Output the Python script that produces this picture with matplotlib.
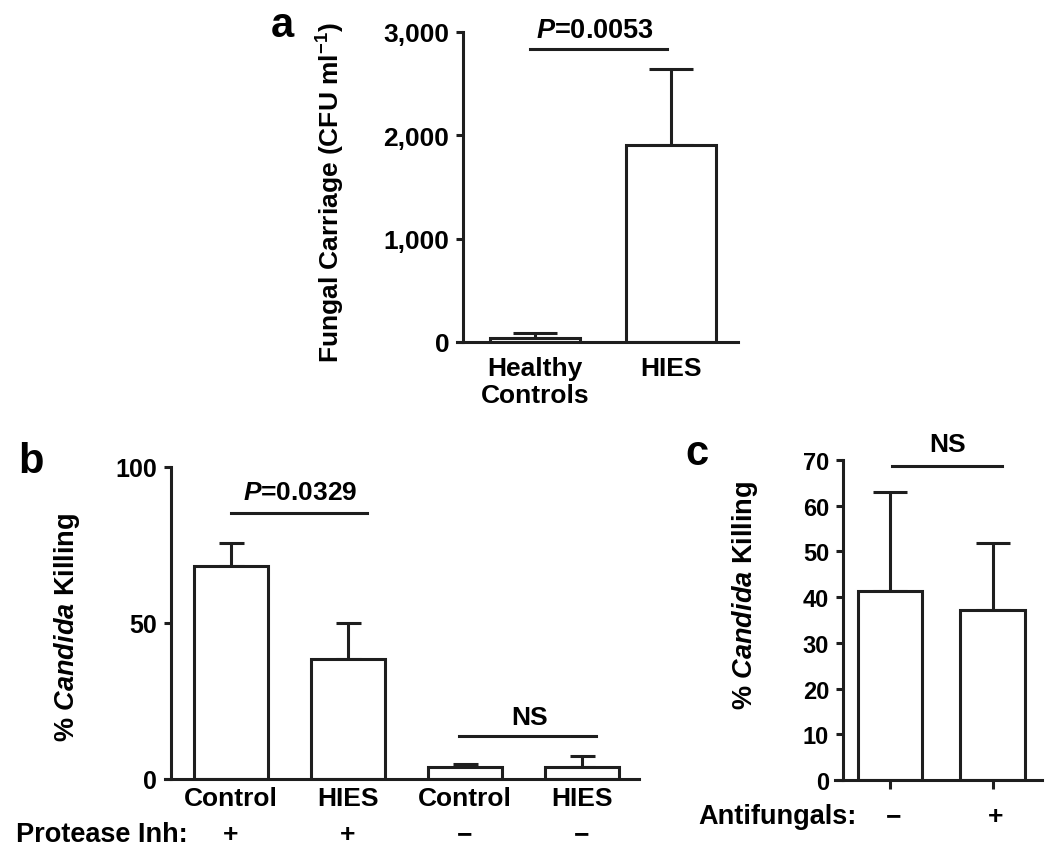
import matplotlib
matplotlib.use("Agg")
import matplotlib.pyplot as plt

# panel a
a_groups = ["Healthy\nControls", "HIES"]
a_means = [40, 1905]
a_errs = [47, 735]
a_yticks = [0, 1000, 2000, 3000]
a_yticklabels = ["0", "1,000", "2,000", "3,000"]

# panel b
b_groups = ["Control", "HIES", "Control", "HIES"]
b_inhibitor = ["+", "+", "\u2212", "\u2212"]
b_means = [68.3, 38.5, 3.8, 3.8]
b_errs = [7.5, 11.5, 1.0, 3.6]
b_yticks = [0, 50, 100]

# panel c
c_antifungal = ["\u2212", "+"]
c_means = [41.4, 37.2]
c_errs = [21.5, 14.6]
c_yticks = [0, 10, 20, 30, 40, 50, 60, 70]

plt.rcParams['font.family'] = ['Liberation Sans', 'DejaVu Sans']
plt.rcParams['font.weight'] = 'bold'
plt.rcParams['mathtext.fontset'] = 'custom'
plt.rcParams['mathtext.rm'] = 'Liberation Sans:bold'
plt.rcParams['mathtext.it'] = 'Liberation Sans:italic:bold'
plt.rcParams['mathtext.bf'] = 'Liberation Sans:bold'

ink = "#1e1e1e"
lw = 2.2
W, H = 1050, 854

fig = plt.figure(figsize=(10.5, 8.54), dpi=100)


def px_axes(left, right, top, bottom):
    return fig.add_axes([left / W, 1 - bottom / H, (right - left) / W, (bottom - top) / H])


def style(ax, spine_x, fs):
    for s in ["top", "right"]:
        ax.spines[s].set_visible(False)
    for s in ["left", "bottom"]:
        ax.spines[s].set_linewidth(lw)
        ax.spines[s].set_color(ink)
    ax.spines["left"].set_position(("data", spine_x))
    ax.tick_params(axis="y", direction="out", length=5, width=lw, color=ink,
                   labelsize=fs, pad=5)
    ax.patch.set_alpha(0)


def bars(ax, x, means, errs, width, cap):
    ax.bar(x, means, width=width, color="white", edgecolor=ink, linewidth=lw, zorder=2)
    ax.errorbar(x, means, yerr=[[0] * len(errs), errs], fmt="none", ecolor=ink,
                elinewidth=lw, capsize=cap, capthick=lw, zorder=1)


# ---- a ----
ax_a = px_axes(457, 738, 33, 343)
xa = list(range(len(a_means)))
bars(ax_a, xa, a_means, a_errs, 0.66, 15.5)
ax_a.set_xlim(-0.574, 1.493)
ax_a.set_ylim(0, 3000)
style(ax_a, -0.529, 19)
ax_a.set_yticks(a_yticks, a_yticklabels)
ax_a.set_xticks(xa, a_groups)
ax_a.tick_params(axis="x", length=0, labelsize=19, pad=10)
for t in ax_a.get_xticklabels():
    t.set_linespacing(1.15)
ax_a.set_ylabel("Fungal Carriage (CFU ml$^{-1}$)", fontsize=19, fontweight="bold")
ax_a.yaxis.set_label_coords(-0.391, 0.484)
ax_a.plot([-0.04, 0.97], [2832, 2832], color=ink, lw=lw, clip_on=False)
ax_a.text(0.44, 3015, "$\\it{P}$=0.0053", ha="center", va="center", fontsize=19.5,
          clip_on=False)
fig.text(282 / W, 1 - 37 / H, "a", fontsize=30, fontweight="bold", ha="center", va="baseline")

# ---- b ----
ax_b = px_axes(165, 639, 468, 780)
xb = list(range(len(b_means)))
bars(ax_b, xb, b_means, b_errs, 0.64, 9)
ax_b.set_xlim(-0.564, 3.487)
ax_b.set_ylim(0, 100)
style(ax_b, -0.513, 18)
ax_b.set_yticks(b_yticks)
ax_b.set_xticks(xb, b_groups)
ax_b.tick_params(axis="x", length=0, labelsize=19, pad=5)
ax_b.set_ylabel("% $\\it{Candida}$ Killing", fontsize=19.5, fontweight="bold")
ax_b.yaxis.set_label_coords(-0.175, 0.49)
ax_b.plot([0, 1.16], [85.3, 85.3], color=ink, lw=lw)
ax_b.text(0.59, 92, "$\\it{P}$=0.0329", ha="center", va="center", fontsize=19)
ax_b.plot([1.95, 3.12], [13.8, 13.8], color=ink, lw=lw)
ax_b.text(2.55, 20, "NS", ha="center", va="center", fontsize=19)
for xi, s in zip(xb, b_inhibitor):
    ax_b.text(xi, -0.176, s, transform=ax_b.get_xaxis_transform(), ha="center",
              va="center", fontsize=19)
fig.text(16 / W, 1 - 835 / H, "Protease Inh:", fontsize=19.5, ha="left", va="center")
fig.text(31 / W, 1 - 473 / H, "b", fontsize=30, fontweight="bold", ha="center", va="baseline")

# ---- c ----
ax_c = px_axes(835, 1042, 461, 781)
xc = list(range(len(c_means)))
bars(ax_c, xc, c_means, c_errs, 0.63, 12.5)
ax_c.set_xlim(-0.537, 1.483)
ax_c.set_ylim(0, 70)
style(ax_c, -0.459, 17)
ax_c.set_yticks(c_yticks)
ax_c.set_xticks(xc, ["", ""])
ax_c.tick_params(axis="x", direction="out", length=6.5, width=lw, color=ink)
ax_c.set_ylabel("% $\\it{Candida}$ Killing", fontsize=19.5, fontweight="bold")
ax_c.yaxis.set_label_coords(-0.362, 0.58)
ax_c.plot([0.02, 1.09], [68.7, 68.7], color=ink, lw=lw, clip_on=False)
ax_c.text(0.56, 73.5, "NS", ha="center", va="center", fontsize=19, clip_on=False)
for xi, s in zip(xc, c_antifungal):
    ax_c.text(xi + 0.03, -0.1125, s, transform=ax_c.get_xaxis_transform(), ha="center",
              va="center", fontsize=19)
fig.text(698 / W, 1 - 817 / H, "Antifungals:", fontsize=19.5, ha="left", va="center")
fig.text(697 / W, 1 - 465 / H, "c", fontsize=30, fontweight="bold", ha="center", va="baseline")

fig.savefig("out.png", dpi=100)
